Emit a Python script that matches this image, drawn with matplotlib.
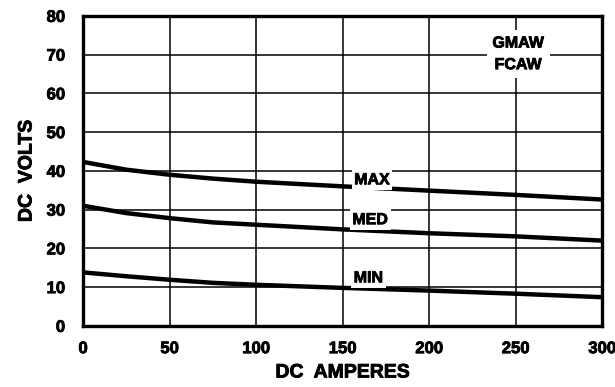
import matplotlib
matplotlib.use("Agg")
import matplotlib.pyplot as plt
import matplotlib.patheffects as pe

# values
amps = [0, 25, 50, 75, 100, 150, 200, 250, 300]
volts_max = [42.3, 40.3, 39.0, 38.0, 37.2, 36.0, 34.9, 33.8, 32.6]
volts_med = [31.0, 29.1, 27.8, 26.7, 26.1, 24.9, 23.9, 23.1, 22.0]
volts_min = [13.8, 12.8, 11.9, 11.1, 10.6, 9.8, 9.1, 8.3, 7.4]

curve_labels = ["MAX", "MED", "MIN"]
label_pos = [(167, 37.7), (166, 27.4), (165, 12.4)]

x_ticks = [0, 50, 100, 150, 200, 250, 300]
y_ticks = [0, 10, 20, 30, 40, 50, 60, 70, 80]

plt.rcParams["font.family"] = ["Liberation Sans", "DejaVu Sans"]
plt.rcParams["font.weight"] = "bold"

# a thin stroke makes the bold face look heavier, like the original
heavy = [pe.withStroke(linewidth=0.6, foreground="black")]

fig = plt.figure(figsize=(6.15, 3.87), dpi=100)
ax = fig.add_axes([0.135, 0.158, 0.844, 0.801])

for v in (volts_max, volts_med, volts_min):
    ax.plot(amps, v, color="black", lw=3.2, solid_capstyle="butt", zorder=3)

for name, (x, y) in zip(curve_labels, label_pos):
    ax.text(x, y, name, fontsize=11.5, fontweight="bold", ha="center", va="center",
            path_effects=heavy,
            bbox=dict(facecolor="white", edgecolor="none", pad=2), zorder=4)

ax.text(251.5, 70.2, "GMAW\nFCAW", fontsize=11.5, fontweight="bold", ha="center",
        va="center", linespacing=1.55, path_effects=heavy,
        bbox=dict(facecolor="white", edgecolor="none", pad=4), zorder=4)

ax.set_xlim(0, 300)
ax.set_ylim(0, 80)
ax.set_xticks(x_ticks)
ax.set_yticks(y_ticks)
ax.grid(True, color="black", lw=1.1)
ax.set_axisbelow(True)
ax.tick_params(length=0, labelsize=12)
ax.tick_params(axis="x", pad=11)
ax.tick_params(axis="y", pad=13)
for lab in ax.get_xticklabels() + ax.get_yticklabels():
    lab.set_fontweight("bold")
    lab.set_path_effects(heavy)
for s in ax.spines.values():
    s.set_linewidth(2.4)
    s.set_zorder(5)

ax.set_xlabel("DC  AMPERES", fontsize=14, fontweight="bold", labelpad=6,
              path_effects=heavy)
ax.set_ylabel("DC  VOLTS", fontsize=14, fontweight="bold", labelpad=8,
              path_effects=heavy)

fig.savefig("out.png", dpi=100)
